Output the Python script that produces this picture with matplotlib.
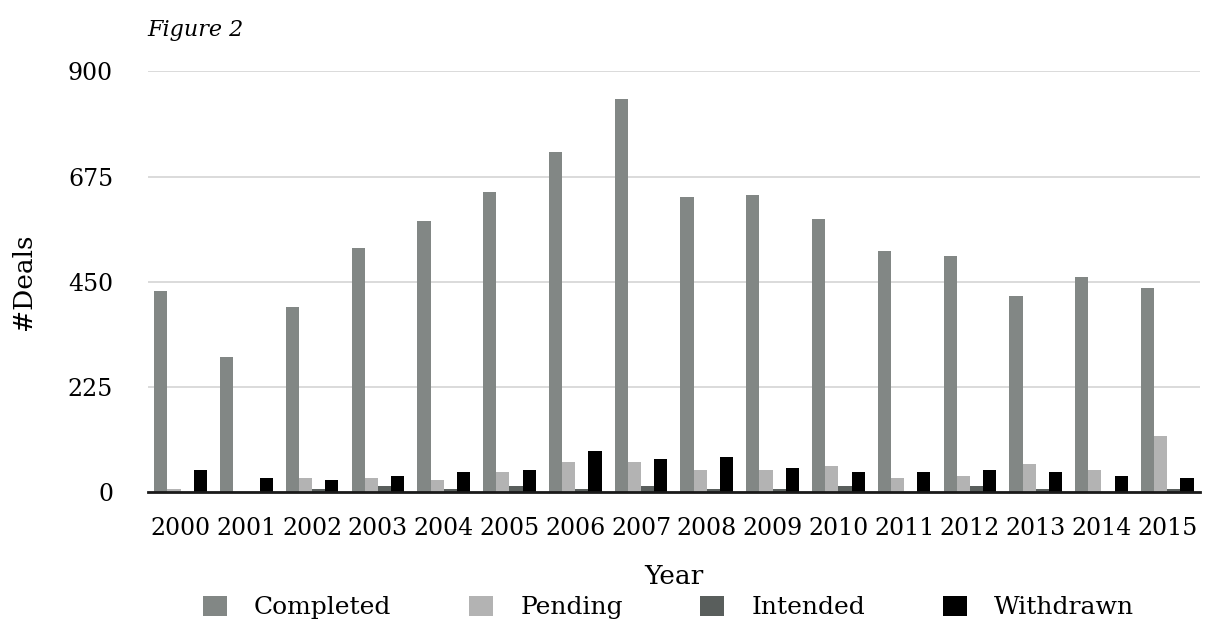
import matplotlib
matplotlib.use("Agg")
import matplotlib.pyplot as plt
import numpy as np

# Deal counts per year, split by deal status
years = ["2000", "2001", "2002", "2003", "2004", "2005", "2006", "2007",
         "2008", "2009", "2010", "2011", "2012", "2013", "2014", "2015"]
completed = [430, 288, 395, 521, 579, 642, 727, 841, 631, 635, 584, 515, 504, 419, 460, 436]
pending = [6, 0, 30, 30, 24, 41, 64, 64, 47, 47, 55, 30, 34, 58, 47, 120]
intended = [0, 0, 6, 13, 6, 13, 6, 13, 6, 6, 13, 0, 13, 6, 0, 6]
withdrawn = [47, 30, 24, 34, 41, 47, 86, 69, 75, 51, 41, 41, 47, 41, 34, 30]

series = [("Completed", completed, "#828785"),
          ("Pending", pending, "#b3b3b3"),
          ("Intended", intended, "#595e5c"),
          ("Withdrawn", withdrawn, "#000000")]

plt.rcParams['font.family'] = ['DejaVu Serif']

fig = plt.figure(figsize=(12.11, 6.27), dpi=100)
ax = fig.add_axes([0.122, 0.216, 0.869, 0.670])

x = np.arange(len(years))
width = 0.2
for i, (name, vals, color) in enumerate(series):
    ax.bar(x + (i - 1.5) * width, vals, width, color=color, label=name, zorder=3)

ax.set_xlim(-0.5, 15.5)
ax.set_ylim(0, 900)
ax.set_yticks([0, 225, 450, 675, 900])
ax.set_xticks(x)
ax.set_xticklabels(years)
ax.tick_params(axis='both', length=0, labelsize=17)
ax.tick_params(axis='y', pad=25)
ax.tick_params(axis='x', pad=18)
ax.grid(axis='y', color='#d4d4d4', linewidth=1.2, zorder=0)
for side in ['top', 'right', 'left']:
    ax.spines[side].set_visible(False)
ax.spines['bottom'].set_color('#1a1a1a')
ax.spines['bottom'].set_linewidth(2)
ax.spines['bottom'].set_zorder(4)

ax.set_ylabel("#Deals", fontsize=19)
ax.yaxis.set_label_coords(-0.106, 0.5)
ax.set_xlabel("Year", fontsize=19)
ax.xaxis.set_label_coords(0.5, -0.172)

fig.text(0.122, 0.952, "Figure 2", fontsize=16, style='italic', va='center')

fig.legend(loc='center', bbox_to_anchor=(0.552, 0.031), ncol=4, frameon=False,
           fontsize=18, handlelength=0.95, handleheight=0.85,
           handletextpad=1.1, columnspacing=3.1)

fig.savefig("out.png", dpi=100)
